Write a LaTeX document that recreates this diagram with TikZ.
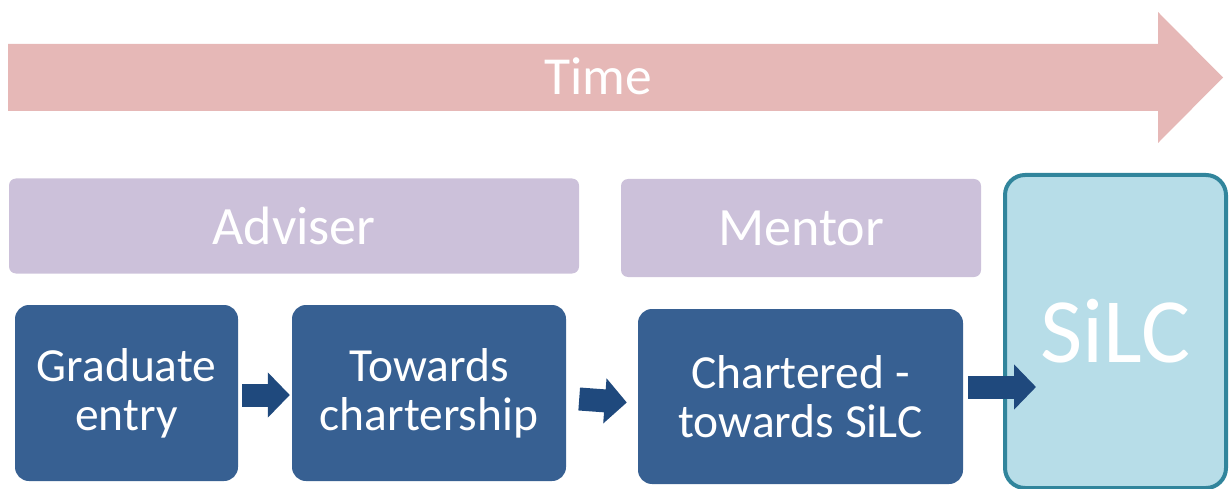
\documentclass[tikz,border=0pt]{standalone}
\usepackage{fontspec}
\setmainfont{Carlito}
\usetikzlibrary{arrows.meta}
\definecolor{timecol}{HTML}{E6B8B7}
\definecolor{rolecol}{HTML}{CCC1DA}
\definecolor{stagecol}{HTML}{376092}
\definecolor{arrcol}{HTML}{1F497D}
\definecolor{silcfill}{HTML}{B7DDE8}
\definecolor{silcline}{HTML}{31859C}
\tikzset{
  rolebox/.style={fill=rolecol, rounded corners=7pt, text=white, inner sep=0pt,
    font=\fontsize{54}{60}\selectfont},
  stagebox/.style={fill=stagecol, rounded corners=14pt, text=white, inner sep=0pt,
    align=center, font=\fontsize{47.5}{49}\selectfont},
  blockarrow/.style={draw=arrcol, line width=23pt,
    -{Triangle[length=22pt,width=44pt,fill=arrcol]}},
}
\begin{document}
\begin{tikzpicture}[x=1pt,y=-1pt]
\useasboundingbox (0,0) rectangle (1229,489);
% time arrow
\fill[timecol] (8,44) -- (1158,44) -- (1158,12) -- (1223,77.5) -- (1158,143) -- (1158,111) -- (8,111) -- cycle;
\node[text=white, font=\fontsize{53.5}{60}\selectfont] (time) at (598,76) {Time};
% role boxes
\node[rolebox, minimum width=570pt, minimum height=95pt] (adv) at (294,226) {Adviser};
\node[rolebox, minimum width=360pt, minimum height=98pt] (men) at (801,228) {Mentor};
% stage boxes
\node[stagebox, minimum width=223pt, minimum height=176pt] (grad) at (126.5,393) {Graduate\\entry};
\node[stagebox, minimum width=274pt, minimum height=176pt] (tow) at (429,393) {Towards\\chartership};
\node[stagebox, minimum width=325pt, minimum height=175pt] (char) at (800.5,396.5) {Chartered -\\towards SiLC};
% SiLC
\node[fill=silcfill, draw=silcline, line width=4pt, rounded corners=20pt, text=white,
  minimum width=221pt, minimum height=313pt, inner sep=0pt,
  font=\fontsize{92}{100}\selectfont] (silc) at (1115.5,331.5) {SiLC};
% connectors
\coordinate (a3end) at ([yshift=9.5pt]char.east -| silc.west);
\draw[blockarrow] ([xshift=4pt,yshift=-2pt]grad.east) -- ([xshift=-2pt,yshift=-2pt]tow.west);
\draw[blockarrow] ([xshift=13pt,yshift=-6pt]tow.east) -- ([xshift=-11pt,yshift=-6pt]char.west);
\draw[blockarrow] ([xshift=5pt,yshift=9.5pt]char.east) -- ([xshift=33pt]a3end);
\end{tikzpicture}
\end{document}
